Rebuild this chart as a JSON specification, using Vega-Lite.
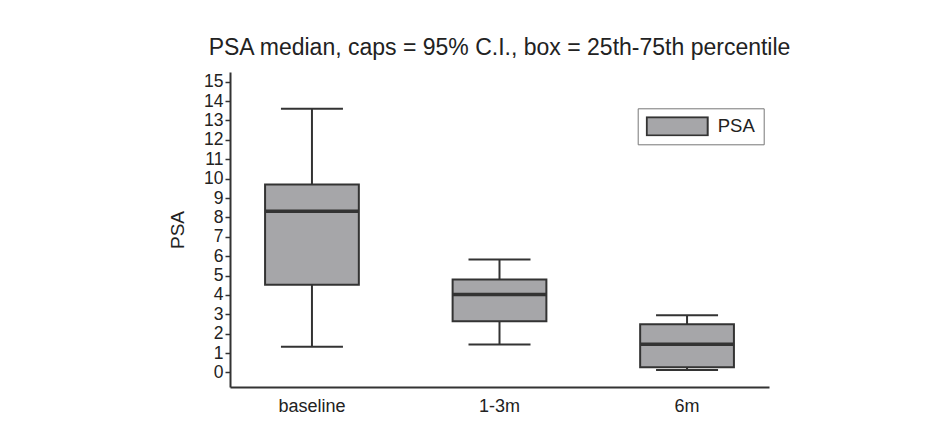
{
  "$schema": "https://vega.github.io/schema/vega-lite/v6.json",
  "width": 539,
  "height": 315,
  "autosize": {"type": "none"},
  "padding": {"left": 230, "top": 72, "right": 176, "bottom": 45},
  "background": "white",
  "title": {
    "text": "PSA median, caps = 95% C.I., box = 25th-75th percentile",
    "fontSize": 23,
    "font": "Liberation Sans",
    "fontWeight": "normal",
    "color": "#222",
    "anchor": "middle",
    "frame": "group",
    "baseline": "alphabetic",
    "offset": -6
  },
  "data": {
    "values": [
      {"period": "baseline", "series": "PSA", "lower": 1.32, "q1": 4.53, "median": 8.32, "q3": 9.69, "upper": 13.61},
      {"period": "1-3m", "series": "PSA", "lower": 1.44, "q1": 2.64, "median": 4.02, "q3": 4.79, "upper": 5.83},
      {"period": "6m", "series": "PSA", "lower": 0.13, "q1": 0.27, "median": 1.46, "q3": 2.49, "upper": 2.95}
    ]
  },
  "encoding": {
    "x": {
      "field": "period",
      "type": "nominal",
      "sort": ["baseline", "1-3m", "6m"],
      "scale": {"paddingInner": 0.5, "paddingOuter": 0.187},
      "axis": {
        "title": null,
        "labelAngle": 0,
        "ticks": false,
        "domainColor": "#333",
        "domainWidth": 2,
        "labelFont": "Liberation Sans",
        "labelFontSize": 18,
        "labelColor": "#222",
        "labelPadding": 10,
        "grid": false
      }
    }
  },
  "layer": [
    {
      "mark": {"type": "rule", "color": "#333", "strokeWidth": 2},
      "encoding": {
        "y": {
          "field": "lower",
          "type": "quantitative",
          "scale": {"domain": [-0.75, 15.5], "nice": false, "zero": false},
          "axis": {"title": "PSA", "values": [0, 1, 2, 3, 4, 5, 6, 7, 8, 9, 10, 11, 12, 13, 14, 15]}
        },
        "y2": {"field": "upper"}
      }
    },
    {
      "mark": {"type": "bar", "stroke": "#333", "strokeWidth": 2},
      "encoding": {
        "y": {"field": "q1", "type": "quantitative", "axis": {"title": "PSA", "values": [0, 1, 2, 3, 4, 5, 6, 7, 8, 9, 10, 11, 12, 13, 14, 15]}},
        "y2": {"field": "q3"},
        "fill": {
          "field": "series",
          "type": "nominal",
          "scale": {"range": ["#a6a6a9"]},
          "legend": {
            "title": null,
            "orient": "none",
            "legendX": 407.7,
            "legendY": 36.3,
            "symbolType": "M-1,-0.3L1,-0.3L1,0.3L-1,0.3Z",
            "symbolSize": 3721,
            "symbolStrokeColor": "#333",
            "symbolStrokeWidth": 2,
            "symbolOpacity": 1,
            "clipHeight": 20,
            "labelFont": "Liberation Sans",
            "labelFontSize": 18.5,
            "labelColor": "#222",
            "labelOffset": 9,
            "padding": 8,
            "strokeColor": "#777",
            "fillColor": "white"
          }
        }
      }
    },
    {
      "mark": {"type": "tick", "color": "#333", "size": 94, "thickness": 3.5, "opacity": 1},
      "encoding": {"y": {"field": "median", "type": "quantitative", "axis": {"title": "PSA", "values": [0, 1, 2, 3, 4, 5, 6, 7, 8, 9, 10, 11, 12, 13, 14, 15]}}}
    },
    {
      "mark": {"type": "tick", "color": "#333", "size": 62, "thickness": 2, "opacity": 1},
      "encoding": {"y": {"field": "lower", "type": "quantitative", "axis": {"title": "PSA", "values": [0, 1, 2, 3, 4, 5, 6, 7, 8, 9, 10, 11, 12, 13, 14, 15]}}}
    },
    {
      "mark": {"type": "tick", "color": "#333", "size": 62, "thickness": 2, "opacity": 1},
      "encoding": {"y": {"field": "upper", "type": "quantitative", "axis": {"title": "PSA", "values": [0, 1, 2, 3, 4, 5, 6, 7, 8, 9, 10, 11, 12, 13, 14, 15]}}}
    }
  ],
  "config": {
    "view": {"stroke": null},
    "axisY": {
      "labelOverlap": false,
      "grid": false,
      "domainColor": "#333",
      "domainWidth": 2,
      "tickColor": "#333",
      "tickWidth": 1.5,
      "tickSize": 5,
      "labelFont": "Liberation Sans",
      "labelFontSize": 17.5,
      "labelColor": "#222",
      "labelPadding": 2,
      "titleFont": "Liberation Sans",
      "titleFontSize": 19,
      "titleFontWeight": "normal",
      "titleColor": "#222",
      "titlePadding": 16
    }
  }
}
